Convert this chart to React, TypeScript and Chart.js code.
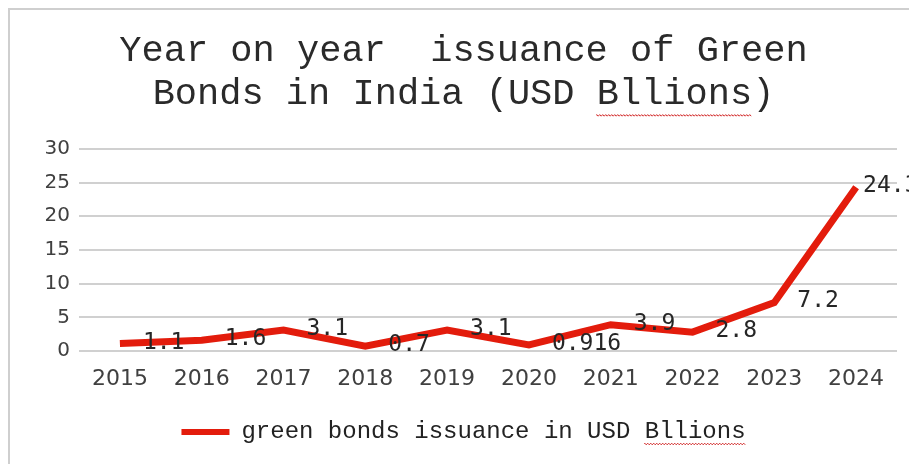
import React, { useEffect, useRef } from "react";
import { Chart, registerables } from "chart.js";

Chart.register(...registerables);

const years = ["2015", "2016", "2017", "2018", "2019", "2020", "2021", "2022", "2023", "2024"];
const issuance = [1.1, 1.6, 3.1, 0.7, 3.1, 0.916, 3.9, 2.8, 7.2, 24.3];
const seriesName = "green bonds issuance in USD Bllions";
const titleLines = ["Year on year  issuance of Green", "Bonds in India (USD Bllions)"];
const yMin = 0;
const yMax = 30;
const yStep = 5;

const RED = "#e31c0c";
const MONO = '"Liberation Mono", "Courier New", monospace';
const TITLE_SIZE = 37;
const TITLE_LH = 1.16;
const LEGEND_SIZE = 24;
const LEGEND_BOX = 48;

function squiggle(ctx: CanvasRenderingContext2D, x0: number, x1: number, y: number) {
  ctx.save();
  ctx.strokeStyle = "#d12a2a";
  ctx.lineWidth = 1;
  ctx.beginPath();
  let up = true;
  ctx.moveTo(x0, y);
  for (let x = x0; x <= x1; x += 1.5) {
    ctx.lineTo(x, y + (up ? -0.8 : 0.8));
    up = !up;
  }
  ctx.stroke();
  ctx.restore();
}

const dataLabelPlugin = {
  id: "dataLabels",
  afterDatasetsDraw(chart: any) {
    const ctx = chart.ctx as CanvasRenderingContext2D;
    const meta = chart.getDatasetMeta(0);
    const vals = chart.data.datasets[0].data as number[];
    ctx.save();
    ctx.font = '23px "DejaVu Sans Mono", monospace';
    ctx.fillStyle = "#262626";
    ctx.textBaseline = "middle";
    ctx.textAlign = "left";
    meta.data.forEach((pt: any, i: number) => {
      const last = i === meta.data.length - 1;
      ctx.fillText(String(vals[i]), pt.x + (last ? 7 : 23), pt.y - 1);
    });
    ctx.restore();
  },
};

const spellPlugin = {
  id: "spellSquiggle",
  afterDraw(chart: any) {
    const ctx = chart.ctx as CanvasRenderingContext2D;
    const tb = chart.titleBlock;
    if (tb) {
      const lh = TITLE_SIZE * TITLE_LH;
      ctx.save();
      ctx.font = `${TITLE_SIZE}px ${MONO}`;
      const line = titleLines[1];
      const w = ctx.measureText(line).width;
      const cx = (tb.left + tb.right) / 2;
      const start = cx - w / 2;
      const idx = line.indexOf("Bllions");
      const pre = ctx.measureText(line.slice(0, idx)).width;
      const ww = ctx.measureText("Bllions").width;
      const top = tb.top + tb.options.padding.top;
      const yc = top + lh * 1.5;
      ctx.restore();
      squiggle(ctx, start + pre, start + pre + ww, yc + 21);
    }
    const lg = chart.legend;
    if (lg && lg.legendHitBoxes && lg.legendHitBoxes[0]) {
      const hb = lg.legendHitBoxes[0];
      ctx.save();
      ctx.font = `${LEGEND_SIZE}px ${MONO}`;
      const idx = seriesName.indexOf("Bllions");
      const pre = ctx.measureText(seriesName.slice(0, idx)).width;
      const ww = ctx.measureText("Bllions").width;
      ctx.restore();
      const tx = hb.left + LEGEND_BOX + LEGEND_SIZE / 2;
      squiggle(ctx, tx + pre, tx + pre + ww, hb.top + hb.height / 2 + 12);
    }
  },
};

export default function App() {
  const ref = useRef<HTMLCanvasElement>(null);
  useEffect(() => {
    document.documentElement.style.overflow = "hidden";
    document.body.style.overflow = "hidden";
    const defaultGen = (Chart.defaults as any).plugins.legend.labels.generateLabels;
    const chart = new Chart(ref.current!, {
      type: "line",
      data: {
        labels: years,
        datasets: [
          {
            label: seriesName,
            data: issuance,
            borderColor: RED,
            backgroundColor: RED,
            borderWidth: 7,
            pointRadius: 0,
            tension: 0,
          },
        ],
      },
      options: {
        animation: false,
        responsive: true,
        maintainAspectRatio: false,
        layout: { padding: { left: 0, right: 0, top: 0, bottom: 10 } },
        scales: {
          x: {
            offset: true,
            grid: { display: false, drawTicks: false },
            border: { display: false },
            ticks: {
              color: "#404040",
              font: { family: '"DejaVu Sans", sans-serif', size: 22 },
              padding: 15,
              maxRotation: 0,
            },
            afterFit: (s: any) => {
              s.height = 59;
            },
          },
          y: {
            min: yMin,
            max: yMax,
            grid: { color: "#d0d0d0", lineWidth: 2, drawTicks: false },
            border: { display: false },
            ticks: {
              stepSize: yStep,
              color: "#404040",
              font: { family: '"DejaVu Sans", sans-serif', size: 20 },
              padding: 9,
            },
            afterFit: (s: any) => {
              s.width = 69;
            },
          },
          yRight: {
            type: "linear",
            position: "right",
            display: true,
            grid: { display: false, drawTicks: false },
            border: { display: false },
            ticks: { display: false },
            afterFit: (s: any) => {
              s.width = 20;
            },
          },
        },
        plugins: {
          title: {
            display: true,
            text: titleLines,
            color: "#2a2a2a",
            font: { family: MONO, size: TITLE_SIZE, weight: "normal", lineHeight: TITLE_LH },
            padding: { top: 20, bottom: 33 },
          },
          legend: {
            display: true,
            position: "bottom",
            labels: {
              boxWidth: LEGEND_BOX,
              boxHeight: 6,
              color: "#222222",
              font: { family: MONO, size: LEGEND_SIZE },
              padding: 10,
              generateLabels: (c: any) =>
                defaultGen(c).map((it: any) => ({ ...it, lineWidth: 0, fillStyle: RED })),
            },
          },
          tooltip: { enabled: false },
        },
      },
      plugins: [dataLabelPlugin, spellPlugin],
    });
    return () => chart.destroy();
  }, []);
  return (
    <div
      style={{
        width: 907,
        height: 454,
        borderTop: "2px solid #cfcfcf",
        borderLeft: "2px solid #cfcfcf",
        position: "relative",
        background: "#fff",
      }}
    >
      <canvas ref={ref} />
    </div>
  );
}
